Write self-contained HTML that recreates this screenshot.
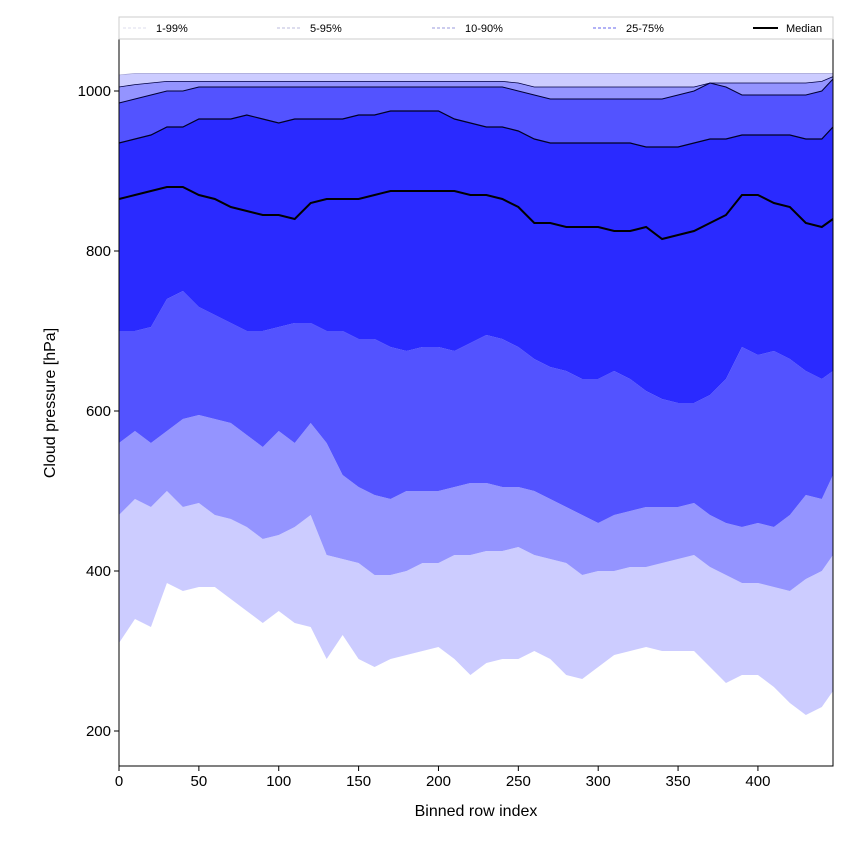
<!DOCTYPE html>
<html><head><meta charset="utf-8"><style>
body{margin:0;background:#fff;font-family:"Liberation Sans",sans-serif}
svg text{font-family:"Liberation Sans",sans-serif}
</style></head><body>
<svg id="c" width="850" height="850"></svg>
<script>
const xs=[0,10,20,30,40,50,60,70,80,90,100,110,120,130,140,150,160,170,180,190,200,210,220,230,240,250,260,270,280,290,300,310,320,330,340,350,360,370,380,390,400,410,420,430,440,447];
const p1=[310,340,330,385,375,380,380,365,350,335,350,335,330,290,320,290,280,290,295,300,305,290,270,285,290,290,300,290,270,265,280,295,300,305,300,300,300,280,260,270,270,255,235,220,230,250];
const p5=[470,490,480,500,480,485,470,465,455,440,445,455,470,420,415,410,395,395,400,410,410,420,420,425,425,430,420,415,410,395,400,400,405,405,410,415,420,405,395,385,385,380,375,390,400,420];
const p10=[560,575,560,575,590,595,590,585,570,555,575,560,585,560,520,505,495,490,500,500,500,505,510,510,505,505,500,490,480,470,460,470,475,480,480,480,485,470,460,455,460,455,470,495,490,520];
const p25=[700,700,705,740,750,730,720,710,700,700,705,710,710,700,700,690,690,680,675,680,680,675,685,695,690,680,665,655,650,640,640,650,640,625,615,610,610,620,640,680,670,675,665,650,640,650];
const med=[865,870,875,880,880,870,865,855,850,845,845,840,860,865,865,865,870,875,875,875,875,875,870,870,865,855,835,835,830,830,830,825,825,830,815,820,825,835,845,870,870,860,855,835,830,840];
const p75=[935,940,945,955,955,965,965,965,970,965,960,965,965,965,965,970,970,975,975,975,975,965,960,955,955,950,940,935,935,935,935,935,935,930,930,930,935,940,940,945,945,945,945,940,940,955];
const p90=[985,990,995,1000,1000,1005,1005,1005,1005,1005,1005,1005,1005,1005,1005,1005,1005,1005,1005,1005,1005,1005,1005,1005,1005,1000,995,990,990,990,990,990,990,990,990,995,1000,1010,1005,995,995,995,995,995,1000,1015];
const p95=[1005,1008,1010,1012,1012,1012,1012,1012,1012,1012,1012,1012,1012,1012,1012,1012,1012,1012,1012,1012,1012,1012,1012,1012,1012,1010,1005,1005,1005,1005,1005,1005,1005,1005,1005,1005,1005,1010,1010,1010,1010,1010,1010,1010,1012,1018];
const p99=[1020,1022,1022,1022,1022,1022,1022,1022,1022,1022,1022,1022,1022,1022,1022,1022,1022,1022,1022,1022,1022,1022,1022,1022,1022,1022,1022,1022,1022,1022,1022,1022,1022,1022,1022,1022,1022,1022,1022,1022,1022,1022,1022,1022,1022,1022];
const xTicks=[0,50,100,150,200,250,300,350,400];
const yTicks=[200,400,600,800,1000];
const X0=119,X1=833,Y0=39,Y1=766;
const sx=v=>X0+(v-0)*(X1-X0)/447;
const sy=p=>731-(p-200)*0.8;
const svg=document.getElementById('c');
const NS='http://www.w3.org/2000/svg';
function mk(t,a){const e=document.createElementNS(NS,t);for(const k in a)e.setAttribute(k,a[k]);svg.appendChild(e);return e;}
function band(lo,hi,col,name){
  let d='M'+xs.map((x,i)=>sx(x)+','+sy(hi[i])).join('L');
  for(let i=xs.length-1;i>=0;i--)d+='L'+sx(xs[i])+','+sy(lo[i]);
  const e=mk('path',{d:d+'Z',fill:col});
  
  
}
function line(arr,col,w,name,dash){
  const e=mk('path',{d:'M'+xs.map((x,i)=>sx(x)+','+sy(arr[i])).join('L'),fill:'none',stroke:col,'stroke-width':w});
  if(dash)e.setAttribute('stroke-dasharray',dash);
  
  
}
const cp=mk('clipPath',{id:'cl'});
band(p1,p5,'#ccccff','band-1-5');band(p95,p99,'#ccccff','band-95-99');
band(p5,p10,'#9494ff','band-5-10');band(p90,p95,'#9494ff','band-90-95');
band(p10,p25,'#5353ff','band-10-25');band(p75,p90,'#5353ff','band-75-90');
band(p25,p75,'#2a2aff','band-25-75');
line(p99,'#9999cc',0.6,'line-p99');line(p95,'#000044',0.8,'line-p95');
line(p90,'#000033',1,'line-p90');line(p75,'#000022',1.2,'line-p75');
line(med,'#000',2,'median-line');
let f=mk('rect',{x:X0,y:Y0,width:X1-X0,height:Y1-Y0,fill:'none',stroke:'#000','stroke-width':1});

xTicks.forEach(v=>{
  mk('line',{x1:sx(v),x2:sx(v),y1:Y1,y2:Y1+5,stroke:'#000'});
  const t=mk('text',{x:sx(v),y:Y1+20,'text-anchor':'middle','font-size':15});t.textContent=v;
  
});
yTicks.forEach(v=>{
  mk('line',{x1:X0-5,x2:X0,y1:sy(v),y2:sy(v),stroke:'#000'});
  const t=mk('text',{x:X0-8,y:sy(v)+5,'text-anchor':'end','font-size':15});t.textContent=v;
  
});
let xt=mk('text',{x:476,y:816,'text-anchor':'middle','font-size':16});xt.textContent='Binned row index';

let yt=mk('text',{x:55,y:403,'text-anchor':'middle','font-size':16,transform:'rotate(-90 55 403)'});yt.textContent='Cloud pressure [hPa]';

let lg=mk('rect',{x:119,y:17,width:714,height:22,fill:'#fff',stroke:'#ccc'});

const legLabels=['1-99%','5-95%','10-90%','25-75%','Median'];
const legX=[123,277,432,593,753];
const legCol=['#ddddee','#bbbbdd','#9999dd','#6666ee','#000'];
legLabels.forEach((l,i)=>{
  const ln=mk('line',{x1:legX[i],x2:legX[i]+25,y1:28,y2:28,stroke:legCol[i],'stroke-width':i==4?2:1});
  if(i<4)ln.setAttribute('stroke-dasharray','3,2');
  const t=mk('text',{x:legX[i]+33,y:32,'font-size':11});t.textContent=l;
  
});
</script>
</body></html>
